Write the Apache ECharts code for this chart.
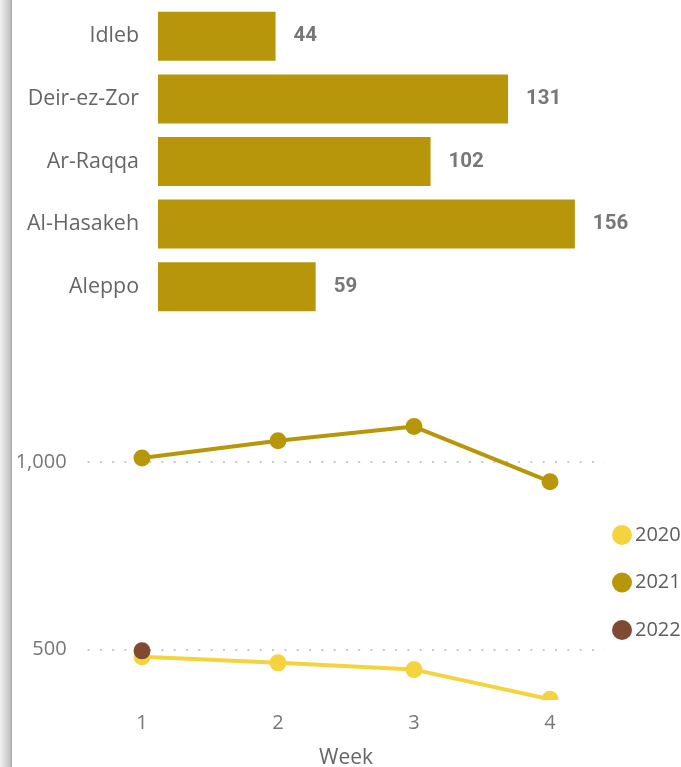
<!DOCTYPE html>
<html>
<head>
<meta charset="utf-8">
<script src="https://cdn.jsdelivr.net/npm/echarts@6/dist/echarts.min.js"></script>
<style>
html,body{margin:0;padding:0;background:#fff;}
#chart{width:681px;height:767px;}
</style>
</head>
<body>
<div id="chart"></div>
<script>
// ---- data ----
const regions = ['Idleb', 'Deir-ez-Zor', 'Ar-Raqqa', 'Al-Hasakeh', 'Aleppo'];
const regionValues = [44, 131, 102, 156, 59];

const weeks = [1, 2, 3, 4];
const years = ['2020', '2021', '2022'];
const values2020 = [481, 465, 447, 368];
const values2021 = [1011, 1057, 1095, 948];
const values2022 = [497];
const yTickValues = [500, 1000];

const yearColors = ['#F5D33F', '#B8960A', '#7E4A32'];
const barColor = '#B8960B';

const chart = echarts.init(document.getElementById('chart'));

function pairs(vals) { return vals.map((v, i) => [weeks[i], v]); }
const yearSeries = [values2020, values2021, values2022];

const option = {
  animation: false,
  backgroundColor: '#fff',
  graphic: [
    {
      type: 'rect', left: 0, top: 0, z: 100,
      shape: { width: 12, height: 767 },
      style: {
        fill: new echarts.graphic.LinearGradient(0, 0, 1, 0, [
          { offset: 0, color: '#f2f2f2' },
          { offset: 0.8, color: '#c4c4c4' },
          { offset: 1, color: '#a6a6a6' }
        ])
      }
    },
    {
      // plot-area clipping below the line grid (as in the reference)
      type: 'rect', left: 88, top: 700, z: 100,
      shape: { width: 517, height: 10 },
      style: { fill: '#fff' }
    }
  ],
  legend: {
    data: years,
    orient: 'vertical',
    left: 607,
    top: 520,
    icon: 'circle',
    itemWidth: 20,
    itemHeight: 20,
    itemGap: 27.5,
    textStyle: { fontFamily: 'Open Sans', fontSize: 20, color: '#605E5C', padding: [3, 0, 0, -2] }
  },
  grid: [
    { left: 158, top: 5, width: 481, height: 313, outerBoundsMode: 'none', containLabel: false },
    { left: 87.6, top: 379.7, width: 516.8, height: 320.3, outerBoundsMode: 'none', containLabel: false }
  ],
  xAxis: [
    { gridIndex: 0, type: 'value', min: 0, max: 180, show: false },
    {
      gridIndex: 1, type: 'value', min: 0.6, max: 4.4,
      name: 'Week', nameLocation: 'middle', nameGap: 48,
      nameTextStyle: { fontFamily: 'Open Sans', fontSize: 21, color: '#666' },
      axisLine: { show: false },
      axisTick: { show: false, customValues: weeks },
      splitLine: { show: false },
      axisLabel: { customValues: weeks, margin: 13, fontFamily: 'Open Sans', fontSize: 20, color: '#777' }
    }
  ],
  yAxis: [
    {
      gridIndex: 0, type: 'category', data: regions, inverse: true,
      axisLine: { show: false }, axisTick: { show: false }, splitLine: { show: false },
      axisLabel: { margin: 19, fontFamily: 'Open Sans', fontSize: 21.4, color: '#666', padding: [5, 0, 0, 0] }
    },
    {
      gridIndex: 1, type: 'value', min: 366, max: 1220,
      axisLine: { show: false },
      axisTick: { show: false, customValues: yTickValues },
      axisLabel: {
        customValues: yTickValues, margin: 21,
        fontFamily: 'Open Sans', fontSize: 20, color: '#777', padding: [3, 0, 0, 0],
        formatter: v => v.toLocaleString('en-US')
      },
      splitLine: {
        show: true, customValues: yTickValues,
        lineStyle: { color: '#c8c8c8', width: 2, type: [2, 10.3] }
      }
    }
  ],
  series: [
    {
      type: 'bar', xAxisIndex: 0, yAxisIndex: 0,
      data: regionValues, barWidth: 49,
      itemStyle: { color: barColor },
      label: {
        show: true, position: 'right', distance: 18, padding: [5, 0, 0, 0],
        fontFamily: 'Roboto', fontWeight: 'bold', fontSize: 20.5, color: '#777'
      }
    },
    ...years.map((y, i) => ({
      name: y, type: 'line', xAxisIndex: 1, yAxisIndex: 1,
      data: pairs(yearSeries[i]),
      symbol: 'circle', symbolSize: 17,
      lineStyle: { width: 4, color: yearColors[i] },
      itemStyle: { color: yearColors[i] },
      z: 2 + i
    }))
  ]
};
chart.setOption(option);
</script>
</body>
</html>
